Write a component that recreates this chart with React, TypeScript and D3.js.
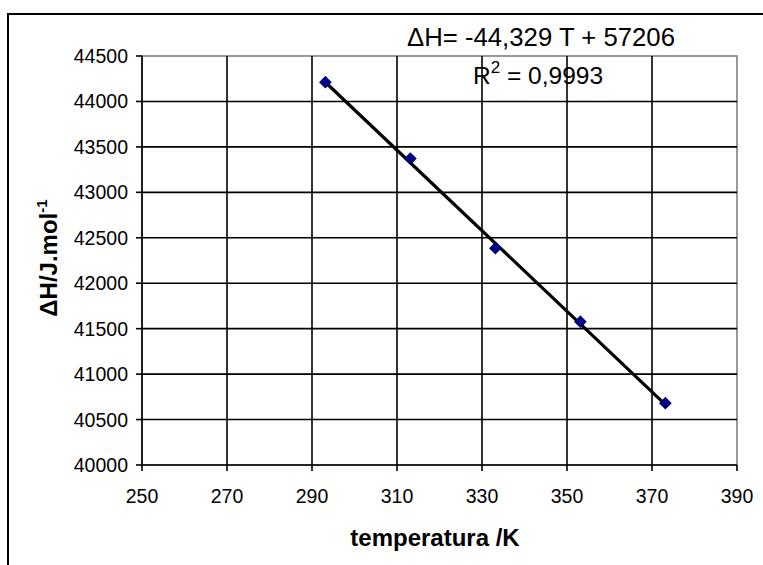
import React from "react";
import * as d3 from "d3";

const temperatures = [293.15, 313.15, 333.15, 353.15, 373.15];
const enthalpies = [44212, 43371, 42385, 41577, 40680];
const xTicks = [250, 270, 290, 310, 330, 350, 370, 390];
const yTicks = [40000, 40500, 41000, 41500, 42000, 42500, 43000, 43500, 44000, 44500];
const fitSlope = -44.329;
const fitIntercept = 57206;
const equationLabel = "ΔH= -44,329 T + 57206";
const r2Value = "0,9993";
const xTitle = "temperatura /K";
const yTitle = "ΔH/J.mol";

const W = 763;
const H = 565;
const left = 142;
const right = 737;
const top = 56;
const bottom = 465;
const font = "'Liberation Sans', Arial, sans-serif";

export default function App() {
  const x = d3.scaleLinear().domain([250, 390]).range([left, right]);
  const y = d3.scaleLinear().domain([40000, 44500]).range([bottom, top]);
  const t0 = temperatures[0];
  const t1 = temperatures[temperatures.length - 1];
  const line = d3.line<number>()
    .x((t) => x(t))
    .y((t) => y(fitSlope * t + fitIntercept));
  const pts = temperatures.map((t, i) => ({ t, h: enthalpies[i] }));

  return (
    <svg width={W} height={H} style={{ position: "absolute", left: 0, top: 0, background: "#fff" }}>
      <rect x={0} y={0} width={W} height={H} fill="#fff" />
      <rect x={8} y={14} width={W + 20} height={H + 20} fill="none" stroke="#000" strokeWidth={2} />
      {/* plot area border */}
      <rect x={left} y={top} width={right - left} height={bottom - top} fill="none" stroke="#808080" strokeWidth={1.6} />
      {/* gridlines */}
      {xTicks.slice(1, -1).map((t) => (
        <line key={"gx" + t} x1={x(t)} x2={x(t)} y1={top} y2={bottom} stroke="#000" strokeWidth={1.6} />
      ))}
      {yTicks.slice(1, -1).map((v) => (
        <line key={"gy" + v} x1={left} x2={right} y1={y(v)} y2={y(v)} stroke="#000" strokeWidth={1.6} />
      ))}
      {/* axes */}
      <line x1={left} x2={left} y1={top} y2={bottom} stroke="#000" strokeWidth={1.6} />
      <line x1={left} x2={right} y1={bottom} y2={bottom} stroke="#000" strokeWidth={1.6} />
      {yTicks.map((v) => (
        <g key={"yt" + v}>
          <line x1={left - 6} x2={left} y1={y(v)} y2={y(v)} stroke="#000" strokeWidth={1.6} />
          <text x={128} y={y(v) + 7} textAnchor="end" fontFamily={font} fontSize={19.5} fill="#000">
            {v}
          </text>
        </g>
      ))}
      {xTicks.map((t) => (
        <g key={"xt" + t}>
          <line x1={x(t)} x2={x(t)} y1={bottom} y2={bottom + 6} stroke="#000" strokeWidth={1.6} />
          <text x={x(t)} y={503} textAnchor="middle" fontFamily={font} fontSize={19.5} fill="#000">
            {t}
          </text>
        </g>
      ))}
      {/* trendline */}
      <path d={line([t0, t1]) || ""} fill="none" stroke="#000" strokeWidth={3.2} />
      {/* markers */}
      {pts.map((p, i) => (
        <path
          key={"m" + i}
          d="M0,-5.5L5.5,0L0,5.5L-5.5,0Z"
          transform={`translate(${x(p.t)},${y(p.h)})`}
          fill="#000080"
          stroke="#000080"
          strokeWidth={1.2}
        />
      ))}
      {/* titles */}
      <text x={435} y={546} textAnchor="middle" fontFamily={font} fontSize={24} fontWeight="bold" fill="#000">
        {xTitle}
      </text>
      <text transform="translate(57,258) rotate(-90)" textAnchor="middle" fontFamily={font} fontSize={24} fontWeight="bold" fill="#000">
        {yTitle}
        <tspan fontSize={15} dy={-10}>-1</tspan>
      </text>
      {/* equation */}
      <text x={407} y={46} fontFamily={font} fontSize={25} fill="#000" textLength={268} lengthAdjust="spacingAndGlyphs">
        {equationLabel}
      </text>
      <text x={473} y={84} fontFamily={font} fontSize={24.5} fill="#000">
        R<tspan fontSize={17} dy={-11}>2</tspan>
        <tspan dy={11}> = {r2Value}</tspan>
      </text>
    </svg>
  );
}
